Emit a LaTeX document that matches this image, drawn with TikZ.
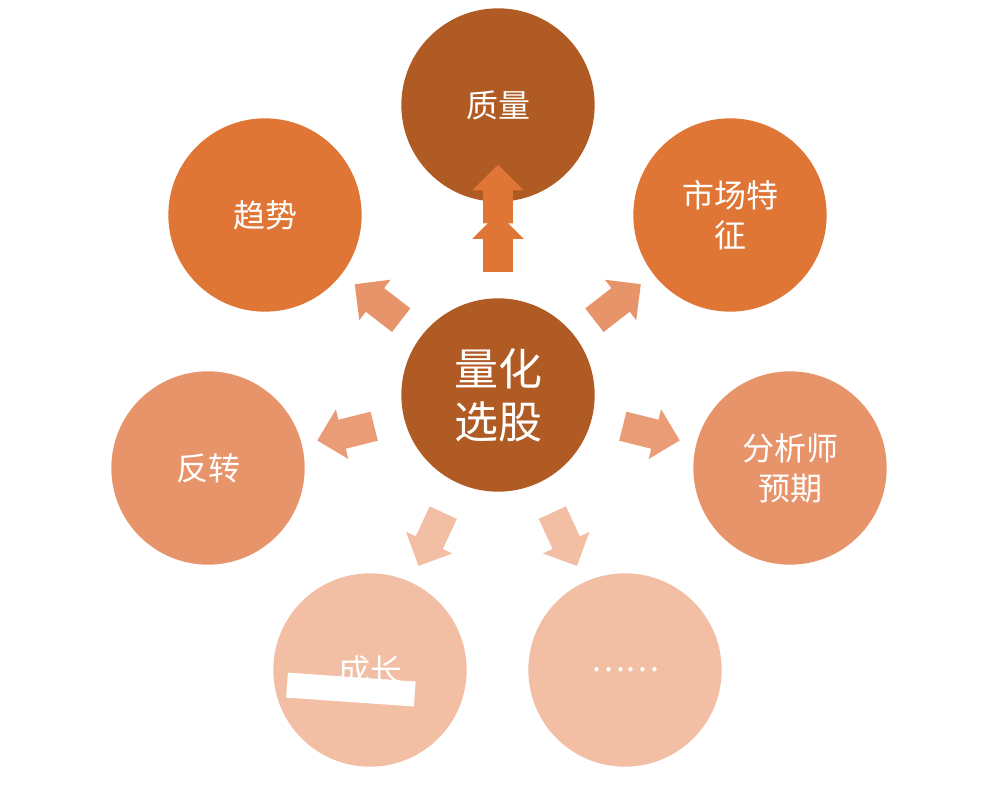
\documentclass[tikz,border=0pt]{standalone}
\usepackage{fontspec}
\setmainfont{Noto Sans CJK SC}
\usetikzlibrary{shapes.arrows}
\definecolor{cdark}{HTML}{B05A24}
\definecolor{cmid}{HTML}{DF7636}
\definecolor{clight}{HTML}{E8946A}
\definecolor{cpale}{HTML}{F2BEA4}
\tikzset{
  bub/.style={circle,minimum size=145pt,inner sep=0pt,text=white,font=\fontsize{24}{30}\selectfont,align=center},
  blk/.style={single arrow,allow upside down,sloped,inner xsep=0pt,inner ysep=11pt,single arrow head extend=8pt,minimum height=44pt,text width=0pt},
}
\begin{document}
\begin{tikzpicture}[x=0.75pt,y=-0.75pt]
\useasboundingbox[fill=white] (0,0) rectangle (989,791);
\node[bub,fill=cdark,font=\fontsize{33}{40}\selectfont] (c) at (498,395) {量化\\选股};
\node[bub,fill=cdark] (q) at (498,105) {质量};
\node[bub,fill=cmid] (t) at (265,215) {趋势};
\node[bub,fill=cmid] (m) at (730,215) {市场特\\征};
\node[bub,fill=clight] (r) at (208,468) {反转};
\node[bub,fill=clight] (a) at (790,468) {分析师\\预期};
\node[bub,fill=cpale] (g) at (370,670) {成长};
\node[bub,fill=cpale] (d) at (625,670) {……};
\fill[white,rotate around={-4:(350,688)}] (287,677) rectangle (415,702);
\path (c) -- node[blk,fill=cmid,pos=0.5]{} (q.center);
\path (c.center) -- (q.center) node[blk,fill=cmid,pos=0.5]{};
\path (c.center) -- (t.center) node[blk,fill=clight,pos=0.49]{};
\path (c.center) -- (m.center) node[blk,fill=clight,pos=0.49]{};
\path (c.center) -- (r.center) node[blk,fill=clight!80!cpale,pos=0.5]{};
\path (c.center) -- (a.center) node[blk,fill=clight!80!cpale,pos=0.5]{};
\path (c.center) -- (g.center) node[blk,fill=cpale,pos=0.5]{};
\path (c.center) -- (d.center) node[blk,fill=cpale,pos=0.5]{};
\end{tikzpicture}
\end{document}
